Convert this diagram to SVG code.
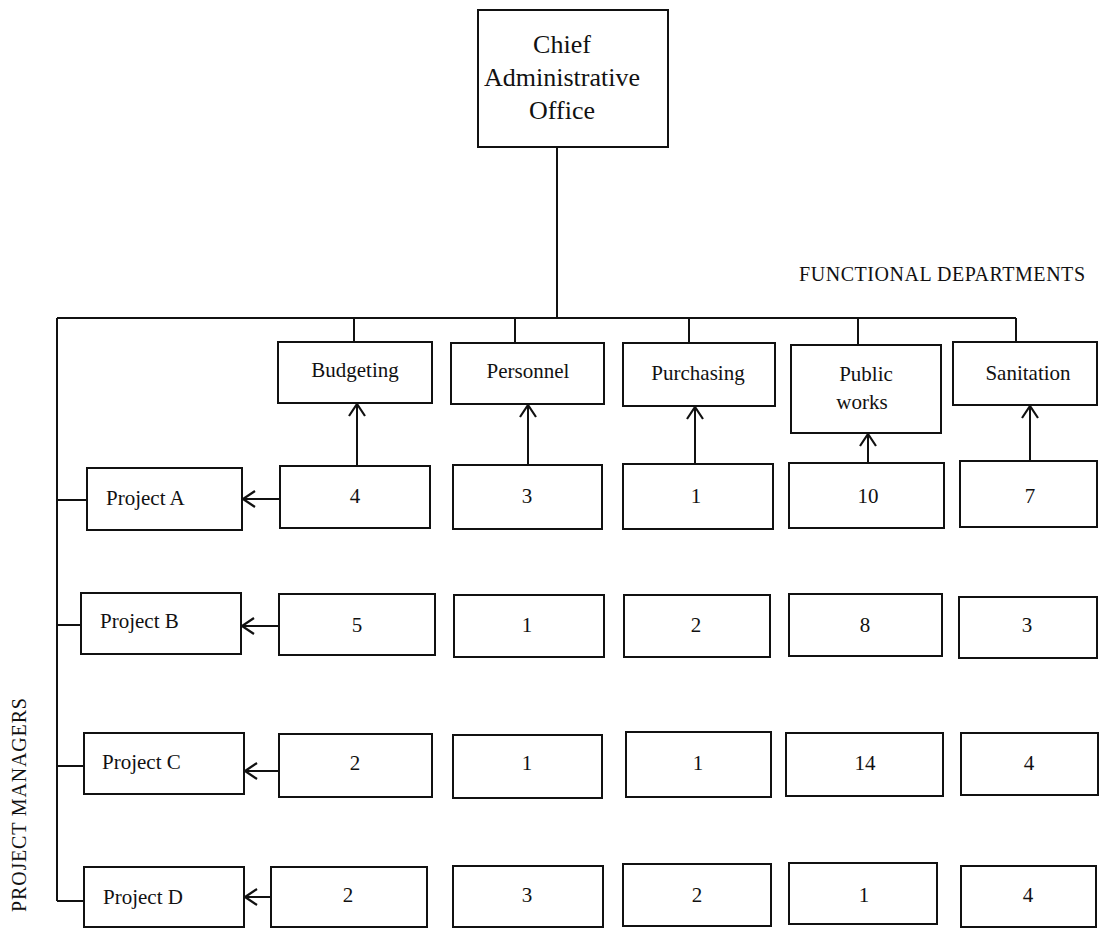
<svg xmlns="http://www.w3.org/2000/svg" width="1099" height="929" viewBox="0 0 1099 929">
<style>
.box{fill:#fff;stroke:#111;stroke-width:2}
.ln{fill:none;stroke:#111;stroke-width:2}
.t{font-family:"Liberation Serif","Times New Roman",serif;fill:#111;font-size:21px;text-anchor:middle}
.big{font-size:26px}
.lab{font-family:"Liberation Serif","Times New Roman",serif;fill:#111;font-size:21px}
.cap{font-family:"Liberation Serif","Times New Roman",serif;fill:#111;font-size:20px}
</style>
<defs>
<marker id="ah" viewBox="0 0 16 20" refX="14" refY="10" markerWidth="16" markerHeight="20" markerUnits="userSpaceOnUse" orient="auto">
<path d="M2,2 L14,10 L2,18" fill="none" stroke="#111" stroke-width="2.2"/>
</marker>
</defs>
<rect width="1099" height="929" fill="#fff"/>
<g id="connectors">
<path class="ln" d="M557,147 V318 M57,318 H1016 M57,318 V901"/>
<path class="ln" d="M354,318 V342 M515,318 V343 M689,318 V343 M858,318 V345 M1016,318 V342"/>
<path class="ln" d="M57,500 H87 M57,625 H81 M57,766 H84 M57,901 H84"/>
<path class="ln" marker-end="url(#ah)" d="M357,466 V404"/>
<path class="ln" marker-end="url(#ah)" d="M528,465 V405"/>
<path class="ln" marker-end="url(#ah)" d="M695,464 V407"/>
<path class="ln" marker-end="url(#ah)" d="M868,463 V434"/>
<path class="ln" marker-end="url(#ah)" d="M1030,461 V406"/>
<path class="ln" marker-end="url(#ah)" d="M280,499 H243"/>
<path class="ln" marker-end="url(#ah)" d="M279,626 H242"/>
<path class="ln" marker-end="url(#ah)" d="M279,771 H245"/>
<path class="ln" marker-end="url(#ah)" d="M271,897 H245"/>
</g>
<g id="chief">
<rect class="box" x="478" y="10" width="190" height="137"/>
<text class="t big" x="562" y="53">Chief</text>
<text class="t big" x="562" y="86">Administrative</text>
<text class="t big" x="562" y="119">Office</text>
</g>
<text class="cap" x="799" y="281" textLength="286" lengthAdjust="spacing">FUNCTIONAL DEPARTMENTS</text>
<text class="cap" transform="translate(26,912) rotate(-90)" textLength="214" lengthAdjust="spacing">PROJECT MANAGERS</text>

<g id="budgeting"><rect class="box" x="278" y="342" width="154" height="61"/><text class="t" x="355" y="377">Budgeting</text></g>
<g id="personnel"><rect class="box" x="451" y="343" width="153" height="61"/><text class="t" x="528" y="378">Personnel</text></g>
<g id="purchasing"><rect class="box" x="623" y="343" width="152" height="63"/><text class="t" x="698" y="380">Purchasing</text></g>
<g id="publicworks"><rect class="box" x="791" y="345" width="150" height="88"/><text class="t" x="866" y="381">Public</text><text class="t" x="862" y="409">works</text></g>
<g id="sanitation"><rect class="box" x="953" y="342" width="144" height="63"/><text class="t" x="1028" y="380">Sanitation</text></g>

<g id="projectA"><rect class="box" x="87" y="468" width="155" height="62"/><text class="lab" x="106" y="505">Project A</text></g>
<g id="projectB"><rect class="box" x="81" y="593" width="160" height="61"/><text class="lab" x="100" y="628">Project B</text></g>
<g id="projectC"><rect class="box" x="84" y="733" width="160" height="61"/><text class="lab" x="102" y="769">Project C</text></g>
<g id="projectD"><rect class="box" x="84" y="867" width="160" height="60"/><text class="lab" x="103" y="904">Project D</text></g>

<g id="a1"><rect class="box" x="280" y="466" width="150" height="62"/><text class="t" x="355" y="503">4</text></g>
<g id="a2"><rect class="box" x="453" y="465" width="149" height="64"/><text class="t" x="527" y="503">3</text></g>
<g id="a3"><rect class="box" x="623" y="464" width="150" height="65"/><text class="t" x="696" y="503">1</text></g>
<g id="a4"><rect class="box" x="789" y="463" width="155" height="65"/><text class="t" x="868" y="503">10</text></g>
<g id="a5"><rect class="box" x="960" y="461" width="137" height="66"/><text class="t" x="1030" y="503">7</text></g>

<g id="b1"><rect class="box" x="279" y="594" width="156" height="61"/><text class="t" x="357" y="632">5</text></g>
<g id="b2"><rect class="box" x="454" y="595" width="150" height="62"/><text class="t" x="527" y="632">1</text></g>
<g id="b3"><rect class="box" x="624" y="595" width="146" height="62"/><text class="t" x="696" y="632">2</text></g>
<g id="b4"><rect class="box" x="789" y="594" width="153" height="62"/><text class="t" x="865" y="632">8</text></g>
<g id="b5"><rect class="box" x="959" y="597" width="138" height="61"/><text class="t" x="1027" y="632">3</text></g>

<g id="c1"><rect class="box" x="279" y="734" width="153" height="63"/><text class="t" x="355" y="770">2</text></g>
<g id="c2"><rect class="box" x="453" y="735" width="149" height="63"/><text class="t" x="527" y="770">1</text></g>
<g id="c3"><rect class="box" x="626" y="732" width="145" height="65"/><text class="t" x="698" y="770">1</text></g>
<g id="c4"><rect class="box" x="786" y="733" width="157" height="63"/><text class="t" x="865" y="770">14</text></g>
<g id="c5"><rect class="box" x="961" y="733" width="137" height="62"/><text class="t" x="1029" y="770">4</text></g>

<g id="d1"><rect class="box" x="271" y="867" width="156" height="60"/><text class="t" x="348" y="902">2</text></g>
<g id="d2"><rect class="box" x="453" y="866" width="150" height="61"/><text class="t" x="527" y="902">3</text></g>
<g id="d3"><rect class="box" x="623" y="864" width="148" height="62"/><text class="t" x="697" y="902">2</text></g>
<g id="d4"><rect class="box" x="789" y="863" width="148" height="61"/><text class="t" x="864" y="902">1</text></g>
<g id="d5"><rect class="box" x="961" y="866" width="135" height="61"/><text class="t" x="1028" y="902">4</text></g>
</svg>
